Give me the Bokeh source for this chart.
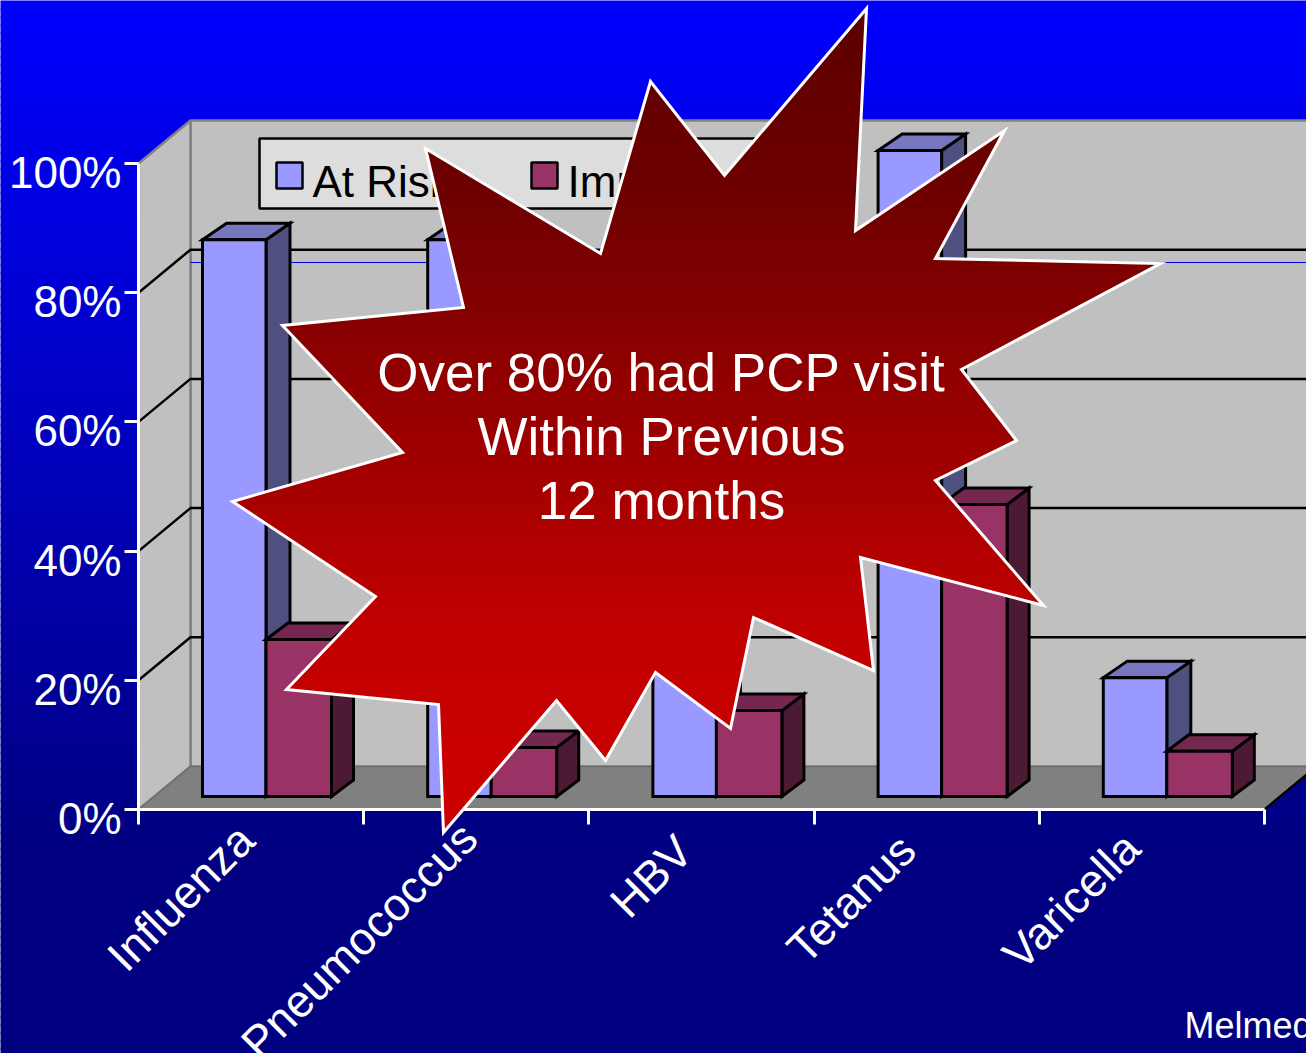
import math
import numpy as np
from bokeh.plotting import figure
from bokeh.embed import file_html
from bokeh.resources import INLINE
from bokeh.core.properties import value
from bokeh.models import Range1d, LinearAxis, FixedTicker

# ---- data ----
categories = ["Influenza", "Pneumococcus", "HBV", "Tetanus", "Varicella"]
at_risk = [86.2, 86.2, 60.0, 100.0, 18.4]
immunized = [24.3, 7.6, 13.3, 45.2, 7.0]
y_ticks = [0, 20, 40, 60, 80, 100]
y_labels = ["0%", "20%", "40%", "60%", "80%", "100%"]
series_names = ["At Risk", "Immunized"]
callout_lines = ["Over 80% had PCP visit", "Within Previous", "12 months"]
credit = "Melmed"
reference_line_value = 78.02

# outline of the callout burst, in page pixels
star_x = [866, 855, 1004, 935, 1160, 961, 1016, 935, 1043, 860, 873, 753, 730, 655,
          605, 556, 443, 438, 286, 375, 232, 402, 282, 463, 425, 600, 650, 724]
star_y = [8, 230, 130, 258, 263, 369, 440, 480, 605, 557, 670, 617, 728, 672,
          760, 700, 832, 704, 689, 596, 501, 452, 325, 307, 148, 253, 81, 175]

W, H = 1306, 1053
AX_X, AX_Y = 138.0, 809.0        # page pixel of the origin
PX_CAT, PX_PCT = 225.2, 6.46     # pixels per category / per percent

x_range = Range1d(-AX_X / PX_CAT, (W - AX_X) / PX_CAT)
y_range = Range1d(-(H - AX_Y) / PX_PCT, AX_Y / PX_PCT)

p = figure(width=W, height=H, x_range=x_range, y_range=y_range, x_axis_type=None,
           y_axis_type=None, toolbar_location=None, output_backend="svg", min_border=0,
           outline_line_color=None, border_fill_color="#0000c0", background_fill_color=None)
p.extra_x_ranges["px"] = Range1d(0, W)
p.extra_y_ranges["px"] = Range1d(H, 0)
PX = dict(x_range_name="px", y_range_name="px")

# page gradient
edges = np.arange(0, H + 8, 8)
grad = [f"#0000{int(round(np.interp(e, [0, 850], [255, 128]))):02x}" for e in edges[:-1]]
p.quad(left=-5, right=W + 5, top=edges[:-1] - (edges[:-1] == 0) * 5, bottom=edges[1:] + 1,
       fill_color=grad, line_color=None, **PX)

# 3-D geometry in data units
wall_dx, wall_dy = 52 / PX_CAT, 43 / PX_PCT
bar_dy = 16.5 / PX_PCT
bar_off = 64 / PX_CAT
bar_w1, bar_w2 = 63.5 / PX_CAT, 65.5 / PX_CAT
base = 13 / PX_PCT
n = len(categories)
top = y_ticks[-1]
grey = "#c0c0c0"
edge = "#808080"

# back wall, left wall, floor
p.quad(left=wall_dx, right=n + wall_dx, bottom=wall_dy, top=top + wall_dy,
       fill_color=grey, line_color=edge, line_width=2.5)
p.patch([0, wall_dx, wall_dx, 0], [top, top + wall_dy, wall_dy, 0],
        fill_color=grey, line_color=edge, line_width=2.5)
p.patch([0, wall_dx, n + wall_dx, n], [0, wall_dy, wall_dy, 0],
        fill_color=edge, line_color="#6e6e6e", line_width=1.5)
p.segment(x0=[n], y0=[0], x1=[n + wall_dx], y1=[wall_dy], line_color="black", line_width=2.5)

# grid lines on the walls
for t in y_ticks[1:-1]:
    p.line([0, wall_dx, n + wall_dx], [t, t + wall_dy, t + wall_dy], line_color="black", line_width=2.5)
p.segment(x0=[wall_dx], y0=[reference_line_value + wall_dy], x1=[n + wall_dx],
          y1=[reference_line_value + wall_dy], line_color="#0000e0", line_width=1)

BLUE = ("#9999ff", "#7777bf", "#4f4f80")
RED = ("#993366", "#75284f", "#4d1a33")
FONT = "Liberation Sans"

# legend box, drawn below the burst
p.quad(left=[259], right=[790], top=[138], bottom=[208], fill_color="#dddddd", line_color="black",
       line_width=2.5, **PX)
for name, cols, sw_x, tx_x in zip(series_names, (BLUE, RED), (276, 531), (312, 567)):
    p.quad(left=[sw_x], right=[sw_x + 26], top=[162], bottom=[188], fill_color=cols[0],
           line_color="black", line_width=2.5, **PX)
    p.text(x=[tx_x], y=[181], text=[name], text_color="black", text_font=value(FONT),
           text_font_size="44px", text_baseline="alphabetic", **PX)

# bars
style = dict(line_color="black", line_width=3, line_join="miter")
for vals, cols, start, w, px_depth in ((at_risk, BLUE, bar_off, bar_w1, 24),
                                       (immunized, RED, bar_off + bar_w1, bar_w2, 22)):
    bar_dx = px_depth / PX_CAT
    lefts = [i + start for i in range(n)]
    rights = [l + w for l in lefts]
    bots = [base] * n
    tops = [base + v for v in vals]
    p.patches([[r, r + bar_dx, r + bar_dx, r] for r in rights],
              [[b, b + bar_dy, t + bar_dy, t] for b, t in zip(bots, tops)],
              fill_color=cols[2], **style)
    p.patches([[l, l + bar_dx, r + bar_dx, r] for l, r in zip(lefts, rights)],
              [[t, t + bar_dy, t + bar_dy, t] for t in tops],
              fill_color=cols[1], **style)
    p.quad(left=lefts, right=rights, bottom=bots, top=tops, fill_color=cols[0], **style)

# axes: lines and ticks
y_axis = LinearAxis(fixed_location=0, ticker=FixedTicker(ticks=y_ticks), bounds=(0, top),
                    axis_line_color="white", axis_line_width=3, major_tick_line_color="white",
                    major_tick_line_width=3, major_tick_in=0, major_tick_out=14,
                    minor_tick_line_color=None, major_label_text_color=None,
                    major_label_text_font_size="1px")
p.add_layout(y_axis, "left")

x_axis = LinearAxis(fixed_location=0, ticker=FixedTicker(ticks=list(range(n + 1))), bounds=(0, n),
                    axis_line_color="white", axis_line_width=3, major_tick_line_color="white",
                    major_tick_line_width=3, major_tick_in=0, major_tick_out=15,
                    minor_tick_line_color=None, major_label_text_color=None,
                    major_label_text_font_size="1px")
p.add_layout(x_axis, "below")

# axes: labels, which sit a little below their ticks in the reference
label_drop = 9 / PX_PCT
shifted = [t - label_drop for t in y_ticks]
y_label_axis = LinearAxis(fixed_location=0, ticker=FixedTicker(ticks=shifted),
                          major_label_overrides={t: l for t, l in zip(shifted, y_labels)},
                          axis_line_color=None, major_tick_line_color=None, minor_tick_line_color=None,
                          major_tick_out=14, major_tick_in=0,
                          major_label_text_color="white", major_label_text_font=FONT,
                          major_label_text_font_size="44px", major_label_standoff=3)
p.add_layout(y_label_axis, "left")

label_dx = [-5, -7, -17, -19, -20]
label_standoff = [17, 15, 28, 27, 25]
for i, (name, dx, st) in enumerate(zip(categories, label_dx, label_standoff)):
    c = i + 0.5 + dx / PX_CAT
    ax = LinearAxis(fixed_location=0, ticker=FixedTicker(ticks=[c]), major_label_overrides={c: name},
                    axis_line_color=None, major_tick_line_color=None, minor_tick_line_color=None,
                    major_label_text_color="white", major_label_text_font=FONT,
                    major_label_text_font_size="45.5px", major_label_orientation=math.pi / 4,
                    major_label_standoff=st)
    p.add_layout(ax, "below")

# credit
p.text(x=[1184], y=[1025], text=[credit], text_color="white", text_font=value(FONT),
       text_font_size="36px", text_baseline="alphabetic", **PX)

# callout burst: strips of a vertical gradient clipped to the outline, then the outline
def clip(px, py, lim, keep_below):
    out = []
    m = len(px)
    for i in range(m):
        a, b = (px[i], py[i]), (px[(i + 1) % m], py[(i + 1) % m])
        ina = a[1] >= lim if keep_below else a[1] <= lim
        inb = b[1] >= lim if keep_below else b[1] <= lim
        if ina:
            out.append(a)
        if ina != inb:
            t = (lim - a[1]) / (b[1] - a[1])
            out.append((a[0] + t * (b[0] - a[0]), lim))
    return [q[0] for q in out], [q[1] for q in out]

sx, sy, sc = [], [], []
for y0 in range(min(star_y), max(star_y), 4):
    xa, ya = clip(star_x, star_y, y0, True)
    xa, ya = clip(xa, ya, y0 + 5, False)
    if xa:
        r = int(round(np.interp(y0 + 2, [8, 190, 500, 620, 740, 832], [92, 110, 168, 192, 200, 204])))
        sx.append(xa); sy.append(ya); sc.append(f"#{r:02x}0000")
p.patches(sx, sy, fill_color=sc, line_color=None, level="overlay", **PX)
p.patch(star_x + star_x[:1], star_y + star_y[:1], fill_color=None, line_color="white",
        line_width=3, line_join="miter", level="overlay", **PX)

text_y = [372, 436, 500]
p.text(x=[661] * 3, y=text_y, text=callout_lines, text_color="white", text_font=value(FONT),
       text_font_size="53px", text_align="center", text_baseline="alphabetic", level="overlay", **PX)

open("out.html", "w").write(file_html(p, INLINE))
